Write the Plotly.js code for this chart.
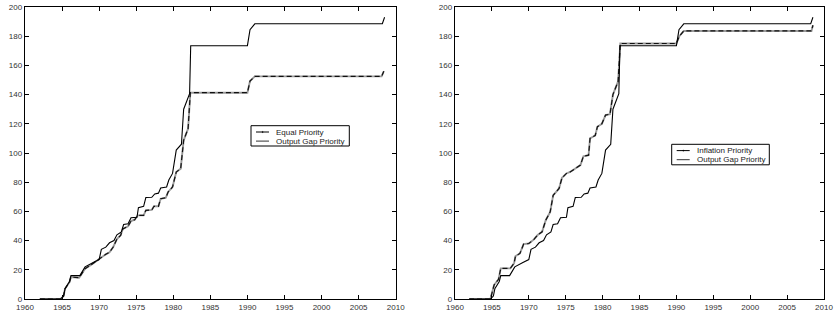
<!DOCTYPE html>
<html>
<head>
<meta charset="utf-8">
<script src="https://cdn.plot.ly/plotly-3.0.1.min.js"></script>
<style>html,body{margin:0;padding:0;background:#fff;}#chart{width:834px;height:327px;}</style>
</head>
<body>
<div id="chart"></div>
<script>
// ---- Data ----
const seriesNamesLeft = ["Equal Priority", "Output Gap Priority"];
const seriesNamesRight = ["Inflation Priority", "Output Gap Priority"];

// Output Gap Priority (same path in both panels)
const yearsOutputGap = [1962.0, 1964.8, 1965.2, 1965.4, 1966.0, 1966.2, 1967.4, 1968.1, 1969.2, 1970.0,
  1970.3, 1970.9, 1971.4, 1972.0, 1972.4, 1973.0, 1973.3, 1973.9, 1974.3, 1975.1,
  1975.3, 1976.0, 1976.3, 1977.1, 1977.5, 1978.0, 1978.3, 1979.1, 1979.4, 1979.9,
  1980.4, 1981.1, 1981.4, 1982.2, 1982.35, 1990.0, 1990.35, 1991.0, 2008.2, 2008.5];
const outputGapPriority = [0, 0, 2, 7, 12, 16, 16, 22, 25, 27,
  34, 35.5, 38.5, 40, 44, 46, 51, 51.5, 55.7, 56,
  62.5, 63.5, 69.5, 69.7, 72, 72.5, 76, 76.7, 81.5, 86,
  102, 106, 130, 140.6, 173.5, 173.5, 184.5, 188.5, 188.5, 193];

// Equal Priority (left panel)
const yearsEqual = [1962.0, 1964.8, 1965.2, 1965.4, 1966.0, 1966.2, 1967.3, 1968.1, 1968.8, 1969.7,
  1970.1, 1970.9, 1971.4, 1971.9, 1972.4, 1972.9, 1973.2, 1973.9, 1974.3, 1974.8,
  1975.2, 1976.0, 1976.3, 1977.1, 1977.4, 1978.0, 1978.3, 1979.0, 1979.3, 1979.9,
  1980.4, 1981.0, 1981.4, 1982.0, 1982.3, 1990.0, 1990.35, 1991.0, 2008.1, 2008.4];
const equalPriority = [0, 0, 2, 7, 11.5, 15, 14.6, 20.8, 23, 26.5,
  27.6, 30.6, 32, 35.6, 41, 43.6, 48, 49.8, 53.4, 54.3,
  57.3, 57.3, 60.7, 61, 63.5, 63.5, 68.7, 69.4, 73.3, 76.7,
  87, 89.3, 108.7, 116.7, 141.3, 141.3, 149.3, 152.5, 152.5, 156];

// Inflation Priority (right panel)
const yearsInflation = [1961.9, 1964.8, 1965.3, 1965.9, 1966.2, 1967.5, 1968.0, 1968.2, 1968.8, 1969.3,
  1970.0, 1970.7, 1971.2, 1971.8, 1972.3, 1972.9, 1973.3, 1974.1, 1974.5, 1975.1,
  1975.6, 1976.3, 1977.0, 1977.4, 1978.1, 1978.3, 1979.0, 1979.3, 1979.9, 1980.4,
  1981.0, 1981.4, 1982.1, 1982.4, 1990.0, 1990.4, 1991.0, 2008.3, 2008.5];
const inflationPriority = [0, 0, 9.6, 13.5, 21, 21, 24.4, 29.4, 31.2, 37.6,
  38, 40.8, 43.8, 46, 54, 59.7, 71, 75.7, 83, 86,
  87, 89.4, 91.7, 97.8, 98.5, 110, 112, 118, 120, 126,
  126.6, 140, 149, 175, 175, 180, 183.6, 183.6, 187.5];

const xTickVals = [1960, 1965, 1970, 1975, 1980, 1985, 1990, 1995, 2000, 2005, 2010];
const yTickVals = [0, 20, 40, 60, 80, 100, 120, 140, 160, 180, 200];

// ---- Geometry helpers (pixel -> paper) ----
const W = 834, H = 327;
const px = v => v / W;
const py = v => 1 - v / H;

const FONT = "Liberation Sans, Arial, Helvetica, sans-serif";

function priorityTraces(x, y, name, xa, ya) {
  return [
    { x: x, y: y, type: "scatter", mode: "lines", xaxis: xa, yaxis: ya,
      line: { color: "#9a9a9a", width: 1.9 }, showlegend: false, hoverinfo: "skip", name: name },
    { x: x, y: y, type: "scatter", mode: "lines", xaxis: xa, yaxis: ya,
      line: { color: "#111", width: 1.2, dash: "5px,3px" }, showlegend: false, name: name }
  ];
}
function plainTrace(x, y, name, xa, ya) {
  return { x: x, y: y, type: "scatter", mode: "lines", xaxis: xa, yaxis: ya,
    line: { color: "#000", width: 1.1 }, showlegend: false, name: name };
}

const data = [
  ...priorityTraces(yearsEqual, equalPriority, seriesNamesLeft[0], "x", "y"),
  plainTrace(yearsOutputGap, outputGapPriority, seriesNamesLeft[1], "x", "y"),
  ...priorityTraces(yearsInflation, inflationPriority, seriesNamesRight[0], "x2", "y2"),
  plainTrace(yearsOutputGap, outputGapPriority, seriesNamesRight[1], "x2", "y2")
];

function axisX(domain, anchor) {
  return { domain: domain, anchor: anchor, range: [1960, 2010], tickvals: xTickVals,
    ticktext: xTickVals.map(String), ticks: "inside", ticklen: 4, tickwidth: 1, tickcolor: "#000",
    showline: true, linecolor: "#000", linewidth: 1.3, mirror: "allticks", showgrid: false,
    zeroline: false, tickfont: { family: FONT, size: 8, color: "#333" }, fixedrange: true };
}
function axisY(anchor) {
  return { domain: [py(299), py(7)], anchor: anchor, range: [0, 200], tickvals: yTickVals,
    ticktext: yTickVals.map(String), ticks: "inside", ticklen: 4, tickwidth: 1, tickcolor: "#000",
    showline: true, linecolor: "#000", linewidth: 1.3, mirror: "allticks", showgrid: false,
    zeroline: false, tickfont: { family: FONT, size: 8, color: "#333" }, fixedrange: true };
}

// ---- Custom compact legends (box, symbols, labels) ----
const shapes = [];
const annotations = [];
function addLegend(left, top, right, bottom, names) {
  shapes.push({ type: "rect", xref: "paper", yref: "paper", x0: px(left), x1: px(right),
    y0: py(bottom), y1: py(top), line: { color: "#000", width: 1 }, fillcolor: "#fff", layer: "above" });
  const rows = [top + 6.3, top + 15.4];
  names.forEach((n, i) => {
    shapes.push({ type: "line", xref: "paper", yref: "paper", x0: px(left + 5), x1: px(left + 18),
      y0: py(rows[i]), y1: py(rows[i]), line: { color: i === 0 ? "#000" : "#333", width: 1 }, layer: "above" });
    if (i === 0) {
      shapes.push({ type: "circle", xref: "paper", yref: "paper", x0: px(left + 11), x1: px(left + 12.2),
        y0: py(rows[i] + 0.6), y1: py(rows[i] - 0.6), line: { color: "#000", width: 0.4 },
        fillcolor: "#000", layer: "above" });
    }
    annotations.push({ xref: "paper", yref: "paper", x: px(left + 23.3), y: py(rows[i]),
      xanchor: "left", yanchor: "middle", showarrow: false, text: n,
      font: { family: FONT, size: 8, color: "#222" } });
  });
}
addLegend(251, 125.7, 349.3, 146, seriesNamesLeft);
addLegend(671.7, 144.3, 769.3, 164.8, seriesNamesRight);

const layout = {
  width: W, height: H,
  margin: { l: 0, r: 0, t: 0, b: 0 },
  paper_bgcolor: "#fff", plot_bgcolor: "#fff",
  showlegend: false,
  xaxis: axisX([px(25), px(395.7)], "y"),
  yaxis: axisY("x"),
  xaxis2: axisX([px(455), px(824)], "y2"),
  yaxis2: axisY("x2"),
  shapes: shapes,
  annotations: annotations
};

Plotly.newPlot("chart", data, layout, { staticPlot: true, displayModeBar: false });
</script>
</body>
</html>
